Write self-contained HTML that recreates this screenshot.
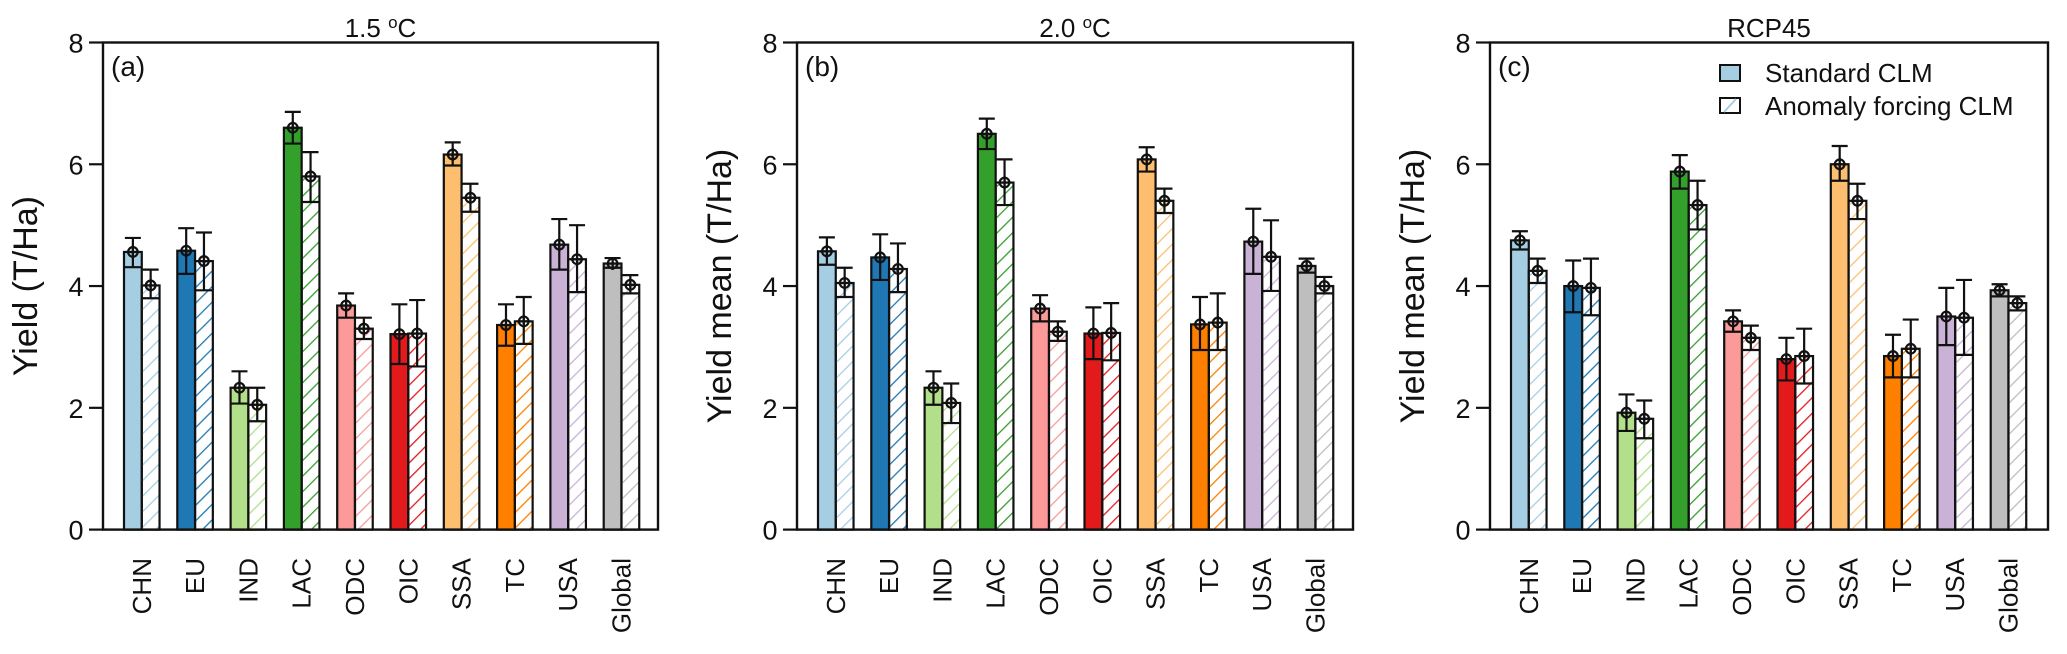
<!DOCTYPE html>
<html><head><meta charset="utf-8"><style>
html,body{margin:0;padding:0;background:#fff;}
svg{display:block;font-family:"Liberation Sans",Arial,sans-serif;}
</style></head><body>
<svg id="chart" width="2067" height="654" viewBox="0 0 2067 654" xmlns="http://www.w3.org/2000/svg">
<defs id="defs"></defs>
</svg>
<script>
const categories = ["CHN","EU","IND","LAC","ODC","OIC","SSA","TC","USA","Global"];
const colors = ["#a6cee3","#1f78b4","#b2df8a","#33a02c","#fb9a99","#e31a1c","#fdbf6f","#ff7f00","#cab2d6","#bebebe"];
const yTicks = [0,2,4,6,8];
const panelTitles = ["1.5 ","2.0 ","RCP45"];
const panelLetters = ["(a)","(b)","(c)"];
const yTitles = ["Yield (T/Ha)","Yield mean (T/Ha)","Yield mean (T/Ha)"];
// panel a
const aStd = [4.56,4.58,2.33,6.6,3.68,3.21,6.16,3.36,4.68,4.37];
const aStdHi = [4.79,4.95,2.6,6.86,3.88,3.7,6.36,3.7,5.1,4.46];
const aStdLo = [4.31,4.2,2.07,6.34,3.48,2.72,5.98,3.02,4.27,4.3];
const aAno = [4.01,4.41,2.05,5.8,3.3,3.22,5.45,3.42,4.44,4.02];
const aAnoHi = [4.27,4.88,2.33,6.2,3.48,3.77,5.68,3.82,5.0,4.18];
const aAnoLo = [3.8,3.93,1.78,5.38,3.13,2.68,5.22,3.05,3.9,3.88];
// panel b
const bStd = [4.57,4.47,2.33,6.5,3.63,3.22,6.08,3.37,4.73,4.33];
const bStdHi = [4.8,4.85,2.6,6.75,3.85,3.65,6.28,3.82,5.27,4.45];
const bStdLo = [4.35,4.1,2.05,6.25,3.42,2.8,5.88,2.95,4.2,4.22];
const bAno = [4.05,4.28,2.08,5.7,3.25,3.23,5.4,3.4,4.48,4.0];
const bAnoHi = [4.3,4.7,2.4,6.08,3.42,3.72,5.6,3.88,5.08,4.15];
const bAnoLo = [3.82,3.9,1.75,5.33,3.1,2.78,5.2,2.95,3.92,3.88];
// panel c
const cStd = [4.75,4.0,1.92,5.88,3.42,2.8,6.0,2.85,3.5,3.93];
const cStdHi = [4.9,4.42,2.22,6.15,3.6,3.15,6.3,3.2,3.97,4.03];
const cStdLo = [4.6,3.57,1.62,5.6,3.25,2.45,5.73,2.5,3.03,3.83];
const cAno = [4.25,3.97,1.82,5.33,3.15,2.85,5.4,2.97,3.48,3.72];
const cAnoHi = [4.45,4.45,2.12,5.73,3.35,3.3,5.68,3.45,4.1,3.83];
const cAnoLo = [4.05,3.52,1.5,4.93,2.95,2.4,5.1,2.5,2.87,3.6];

const panels = [
 {x0:103,x1:658,std:aStd,stdHi:aStdHi,stdLo:aStdLo,ano:aAno,anoHi:aAnoHi,anoLo:aAnoLo},
 {x0:797,x1:1353,std:bStd,stdHi:bStdHi,stdLo:bStdLo,ano:bAno,anoHi:bAnoHi,anoLo:bAnoLo},
 {x0:1490,x1:2048,std:cStd,stdHi:cStdHi,stdLo:cStdLo,ano:cAno,anoHi:cAnoHi,anoLo:cAnoLo}
];
const NS="http://www.w3.org/2000/svg";
const svg=document.getElementById('chart');
const defs=document.getElementById('defs');
const yTop=42.5, yBot=529.6, yMax=8;
function yS(v){return yBot-(v/yMax)*(yBot-yTop);}
function mk(tag,attrs,parent){const e=document.createElementNS(NS,tag);for(const k in attrs)e.setAttribute(k,attrs[k]);(parent||svg).appendChild(e);return e;}

colors.forEach((c,i)=>{
  const p=mk('pattern',{id:'h'+i,patternUnits:'userSpaceOnUse',width:11,height:11,patternTransform:'rotate(45)'},defs);
  mk('line',{x1:0,y1:0,x2:0,y2:11,stroke:c,'stroke-width':2.6},p);
});

const bw=17.77, gap=53.3;
panels.forEach((P,pi)=>{
  const g=mk('g',{});
  
  
  const xS=(i,k)=>P.x0+21+i*gap+k*bw;
  categories.forEach((cat,i)=>{
    [0,1].forEach(k=>{
      const v=k?P.ano[i]:P.std[i], hi=k?P.anoHi[i]:P.stdHi[i], lo=k?P.anoLo[i]:P.stdLo[i];
      const x=xS(i,k);
      const r=mk('rect',{x:x,y:yS(v),width:bw,height:yS(0)-yS(v),fill:k?'url(#h'+i+')':colors[i],stroke:'#111','stroke-width':2.2},g);
      
      
      const cx=x+bw/2;
      const eb=mk('g',{stroke:'#111','stroke-width':2.2,fill:'none'},g);
      
      
      mk('line',{x1:cx,y1:yS(hi),x2:cx,y2:yS(lo)},eb);
      mk('line',{x1:cx-8,y1:yS(hi),x2:cx+8,y2:yS(hi)},eb);
      mk('line',{x1:x,y1:yS(lo),x2:x+bw,y2:yS(lo)},eb);
      mk('circle',{cx:cx,cy:yS(v),r:4.8},eb);
      mk('line',{x1:cx-6.5,y1:yS(v),x2:cx+6.5,y2:yS(v)},eb);
      mk('line',{x1:cx,y1:yS(v)-6.5,x2:cx,y2:yS(v)+6.5},eb);
    });
    const lx=xS(i,1), ly=558;
    const t=mk('text',{x:lx+9,y:ly,transform:`rotate(-90 ${lx+9} ${ly})`,'text-anchor':'end','font-size':26,fill:'#111'},g);
    t.textContent=cat;
    
    
  });
  const box=mk('rect',{x:P.x0,y:yTop,width:P.x1-P.x0,height:yBot-yTop,fill:'none',stroke:'#111','stroke-width':2.4},g);
  
  
  yTicks.forEach(v=>{
    mk('line',{x1:P.x0-14,y1:yS(v),x2:P.x0,y2:yS(v),stroke:'#111','stroke-width':2.2},g);
    const t=mk('text',{x:P.x0-27,y:yS(v)+10,'text-anchor':'middle','font-size':27,fill:'#111'},g);
    t.textContent=v;
    
    
  });
  const mid=(P.x0+P.x1)/2;
  const tt=mk('text',{x:mid,y:37,'text-anchor':'middle','font-size':26,fill:'#111'},g);
  tt.textContent=panelTitles[pi];
  if(pi<2){
    const sup=mk('tspan',{dy:-9,'font-size':17},tt); sup.textContent='o';
    const c=mk('tspan',{dy:9},tt); c.textContent='C';
  }
  
  
  const lt=mk('text',{x:P.x0+8,y:76,'font-size':28,fill:'#111'},g);
  lt.textContent=panelLetters[pi];
  
  
  const yx=P.x0-66, yy=(yTop+yBot)/2;
  const yt=mk('text',{x:yx,y:yy,transform:`rotate(-90 ${yx} ${yy})`,'text-anchor':'middle','font-size':34,fill:'#111'},g);
  yt.textContent=yTitles[pi];
  
  
});
// legend
const lg=mk('g',{});


const s1=mk('rect',{x:1720,y:65,width:20,height:16,fill:colors[0],stroke:'#111','stroke-width':2},lg);


const s2=mk('rect',{x:1720,y:98,width:20,height:15,fill:'#fff',stroke:'#111','stroke-width':2},lg);


mk('line',{x1:1724,y1:112,x2:1736,y2:99,stroke:colors[0],'stroke-width':2},lg);
const l1=mk('text',{x:1765,y:82,'font-size':26,fill:'#111'},lg);
l1.textContent='Standard CLM';


const l2=mk('text',{x:1765,y:115,'font-size':26,fill:'#111'},lg);
l2.textContent='Anomaly forcing CLM';


</script>
</body></html>
